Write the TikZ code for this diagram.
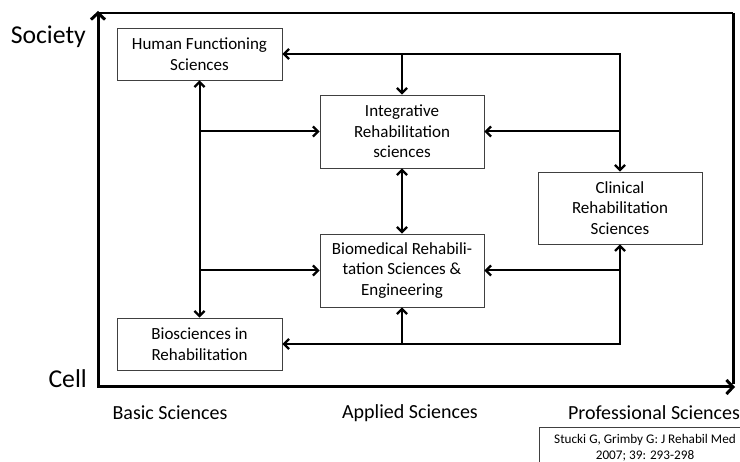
\documentclass[tikz,border=0pt]{standalone}
\usepackage{fontspec}
\setmainfont{Carlito}
\usetikzlibrary{arrows.meta}
\begin{document}
\begin{tikzpicture}[x=1pt,y=-1pt,
  box/.style={draw=black!75, line width=0.9pt, fill=white, align=center, font=\fontsize{17}{20.5}\selectfont, inner sep=0pt},
  conn/.style={line width=2pt, line cap=butt, line join=miter, -{Straight Barb[length=5pt,width=10pt,line width=2.2pt]}},
  both/.style={line width=2pt, {Straight Barb[length=5pt,width=10pt,line width=2.2pt]}-{Straight Barb[length=5pt,width=10pt,line width=2.2pt]}},
  axis/.style={line width=3pt, {Straight Barb[length=6.5pt,width=14pt,line width=3pt]}-{Straight Barb[length=6.5pt,width=14pt,line width=3pt]}},
  lbl/.style={font=\fontsize{20}{24}\selectfont, inner sep=0pt},
  big/.style={font=\fontsize{25.7}{30}\selectfont, inner sep=0pt}]
\useasboundingbox (0,0) rectangle (740,462);
\fill[white] (0,0) rectangle (740,462);
% frame and axes
\coordinate (ytop) at (98,11);
\coordinate (orig) at (98,387);
\coordinate (xend) at (735,387);
\coordinate (ftl) at (98,13);
\coordinate (ftr) at (733,13);
\coordinate (fbr) at (733,384);
\draw[line width=2pt] (ftl) -- (ftr);
\draw[line width=3pt] (ftr) -- (fbr);
\draw[axis] (ytop) -- (orig) -- (xend);
% boxes
\node[box, minimum width=165pt, minimum height=52pt] (hfs) at (199.5,54) {Human Functioning\\Sciences};
\node[box, minimum width=164pt, minimum height=73pt] (irs) at (402,131.5) {Integrative\\Rehabilitation\\sciences};
\node[box, minimum width=164pt, minimum height=72pt] (crs) at (620,208) {Clinical\\Rehabilitation\\Sciences};
\node[box, minimum width=164pt, minimum height=73pt] (brs) at (402,270.5) {Biomedical Rehabili-\\tation Sciences \&\\Engineering};
\node[box, minimum width=165pt, minimum height=52pt] (bir) at (199.5,344) {Biosciences in\\Rehabilitation};
% junctions
\coordinate (tr) at (crs |- hfs);
\coordinate (br) at (crs |- bir);
% connectors
\draw[both] (hfs.east) -- (tr) -- (crs.north);
\draw[conn] (irs |- hfs) -- (irs.north);
\draw[conn] (tr |- irs) -- (irs.east);
\draw[both] (hfs.south) -- (bir.north);
\draw[conn] (hfs |- irs) -- (irs.west);
\draw[conn] (hfs |- brs) -- (brs.west);
\draw[both] (irs.south) -- (brs.north);
\draw[both] (bir.east) -- (br) -- (crs.south);
\draw[conn] (brs |- bir) -- (brs.south);
\draw[conn] (crs |- brs) -- (brs.east);
% labels
\node[big, anchor=east] (soc) at (86,37) {Society};
\node[big, anchor=east] (cell) at (87,379) {Cell};
\node[lbl] (basic) at (170,413) {Basic Sciences};
\node[lbl] (applied) at (410,413) {Applied Sciences};
\node[lbl] (prof) at (654,413) {Professional Sciences};
% citation
\draw[draw=black!75, line width=0.9pt] (539,427) rectangle (760,480);
\node[align=center, font=\fontsize{13.2}{15.5}\selectfont, inner sep=0pt] (cite) at (645,448) {Stucki G, Grimby G: J Rehabil Med\\2007; 39: 293-298};
\end{tikzpicture}
\end{document}
